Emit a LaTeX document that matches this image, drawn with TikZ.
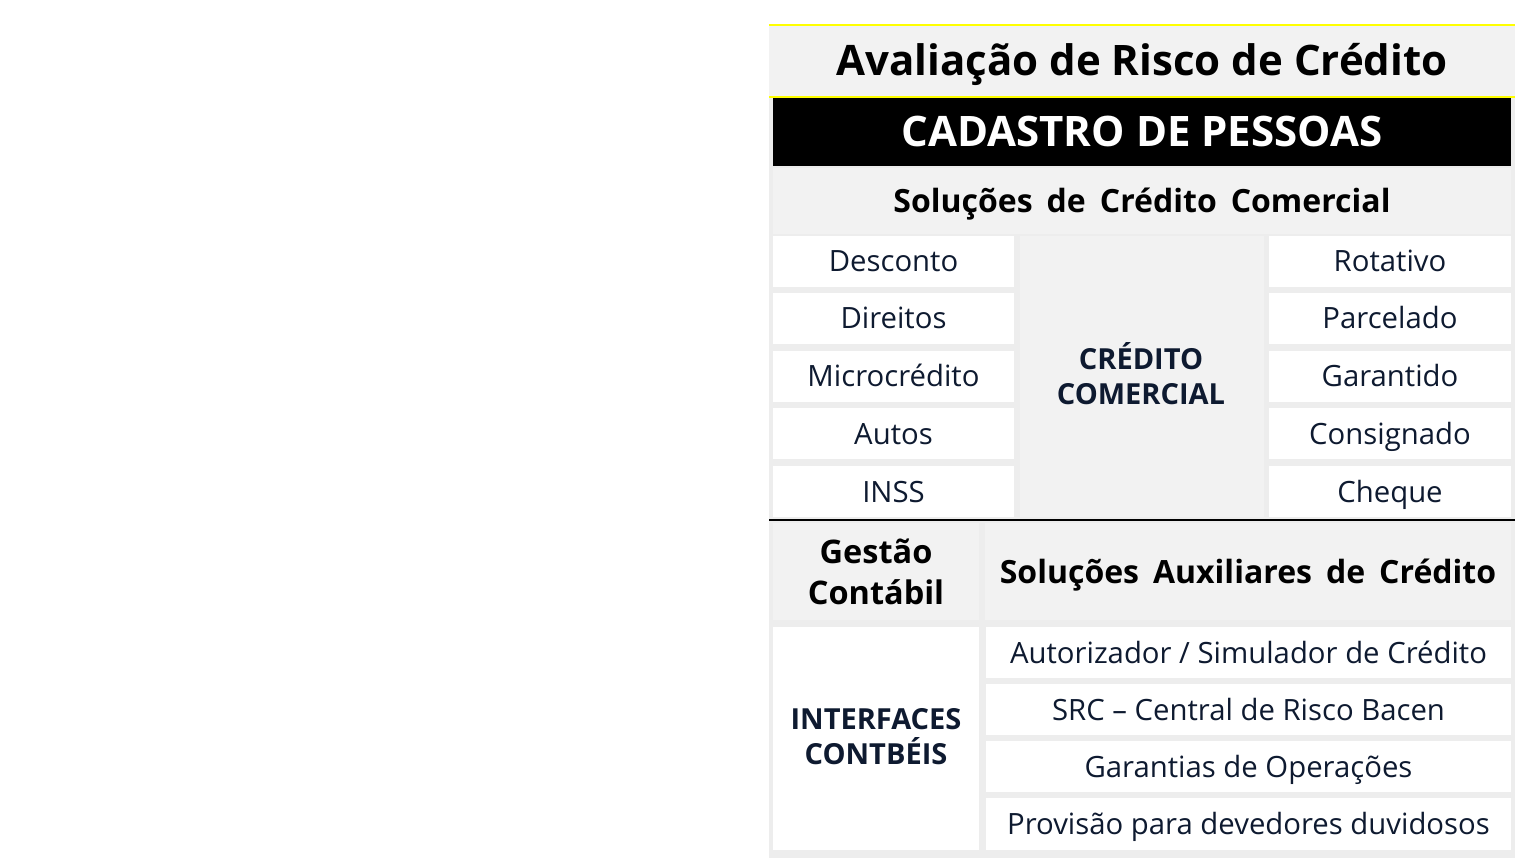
\documentclass[tikz,border=0pt]{standalone}
\usepackage{fontspec}
\setmainfont{Open Sans}
\definecolor{bggray}{HTML}{EDEDED}
\definecolor{cellgray}{HTML}{F2F2F2}
\definecolor{navy}{HTML}{0E1A30}
\definecolor{hiyellow}{HTML}{FFFF00}
\newcommand{\myws}{\hspace{14pt}}
\begin{document}
\begin{tikzpicture}[x=1pt,y=-1pt,
  box/.style={rectangle, inner sep=0pt, draw=none},
  wcell/.style={box, fill=white, text=navy, font=\fontsize{29.3}{35}\selectfont, text height=21pt, text depth=0pt},
  gcell/.style={box, fill=cellgray},
  hdr/.style={font=\bfseries\fontsize{32}{40}\selectfont, text=black, text height=23pt, text depth=0pt},
  navybold/.style={inner sep=0pt, text=navy, align=center, font=\bfseries\fontsize{29}{35}\selectfont},
  yline/.style={draw=hiyellow, line width=2pt},
]
\useasboundingbox (0,0) rectangle (1515,858);
\fill[bggray] (769,97) rectangle (1515,858);
% title
\node[gcell, minimum width=746pt, minimum height=72pt, font=\bfseries\fontsize{42}{50}\selectfont, text height=30pt, text depth=0pt] (title) at (1142,61) {Avaliação de Risco de Crédito};
\draw[yline] (title.north west) -- (title.north east);
\draw[yline] (title.south west) -- (title.south east);
% black bar
\node[box, fill=black, text=white, minimum width=738pt, minimum height=68pt, font=\bfseries\fontsize{42}{50}\selectfont, text height=30pt, text depth=0pt] (cad) at (1142,132) {CADASTRO DE PESSOAS};
% solucoes comerciais
\node[gcell, hdr, minimum width=738pt, minimum height=66pt] (solc) at (1142,201) {Soluções\myws de\myws Crédito\myws Comercial};
% middle
\node[gcell, minimum width=244pt, minimum height=281pt] (mid) at (1142,376.5) {};
\node[navybold] (midtxt) at (1141,374) {CRÉDITO\\COMERCIAL};
% left column
\node[wcell, minimum width=241pt, minimum height=51pt] (l1) at (893.5,261.5) {Desconto};
\node[wcell, minimum width=241pt, minimum height=51pt] (l2) at (893.5,318.5) {Direitos};
\node[wcell, minimum width=241pt, minimum height=51pt] (l3) at (893.5,376.5) {Microcrédito};
\node[wcell, minimum width=241pt, minimum height=51pt] (l4) at (893.5,433.5) {Autos};
\node[wcell, minimum width=241pt, minimum height=51pt] (l5) at (893.5,491.5) {INSS};
% right column
\node[wcell, minimum width=242pt, minimum height=51pt] (r1) at (1390,261.5) {Rotativo};
\node[wcell, minimum width=242pt, minimum height=51pt] (r2) at (1390,318.5) {Parcelado};
\node[wcell, minimum width=242pt, minimum height=51pt] (r3) at (1390,376.5) {Garantido};
\node[wcell, minimum width=242pt, minimum height=51pt] (r4) at (1390,433.5) {Consignado};
\node[wcell, minimum width=242pt, minimum height=51pt] (r5) at (1390,491.5) {Cheque};
% separator
\coordinate (sepw) at (769,520);
\coordinate (sepe) at (1515,520);
\draw[line width=2pt, black] (sepw) -- (sepe);
% lower headers
\node[gcell, minimum width=206pt, minimum height=97pt] (gest) at (876,571.5) {};
\node[inner sep=0pt, align=center, font=\bfseries\fontsize{32.5}{41}\selectfont] (gesttxt) at (876,572) {Gestão\\Contábil};
\node[gcell, hdr, minimum width=526pt, minimum height=97pt] (solaux) at (1248,571.5) {Soluções\myws Auxiliares\myws de\myws Crédito};
% lower cells
\node[box, fill=white, minimum width=206pt, minimum height=223pt] (intf) at (876,738.5) {};
\node[navybold] (intftxt) at (876,737) {INTERFACES\\CONTBÉIS};
\node[wcell, minimum width=525pt, minimum height=51pt] (a1) at (1248.5,652.5) {Autorizador / Simulador de Crédito};
\node[wcell, minimum width=525pt, minimum height=51pt] (a2) at (1248.5,709.5) {SRC – Central de Risco Bacen};
\node[wcell, minimum width=525pt, minimum height=51pt] (a3) at (1248.5,766.5) {Garantias de Operações};
\node[wcell, minimum width=525pt, minimum height=52pt] (a4) at (1248.5,824) {Provisão para devedores duvidosos};
\end{tikzpicture}
\end{document}
